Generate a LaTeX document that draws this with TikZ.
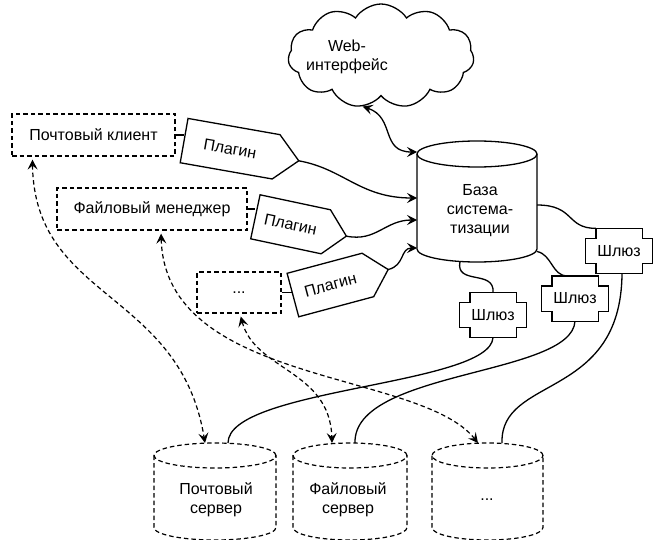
\documentclass[tikz,border=0pt]{standalone}
\usepackage{fontspec}
\setmainfont{Liberation Sans}
\usetikzlibrary{arrows.meta,shapes.symbols,calc}
\newcommand\gwdraw[1]{%
  \draw[solidline] ([xshift=10.5pt]#1.north west) -- ([xshift=-10.5pt]#1.north east)
    -- ([xshift=-10.5pt,yshift=-10pt]#1.north east) -- ([yshift=-10pt]#1.north east)
    -- ([yshift=10pt]#1.south east) -- ([xshift=-10.5pt,yshift=10pt]#1.south east)
    -- ([xshift=-10.5pt]#1.south east) -- ([xshift=10.5pt]#1.south west)
    -- ([xshift=10.5pt,yshift=10pt]#1.south west) -- ([yshift=10pt]#1.south west)
    -- ([yshift=-10pt]#1.north west) -- ([xshift=10.5pt,yshift=-10pt]#1.north west) -- cycle;}
% name, x, y, angle, half body width, tip length
\newcommand\plugdraw[6]{%
  \node[txt, rotate=#4] (#1) at (#2,#3) {Плагин};
  \begin{scope}[shift={(#1.center)}, rotate=#4]
    \draw[solidline] (-#5,-22.5) -- (#5,-22.5) -- ({#5+#6},0) coordinate (#1tip)
      -- (#5,22.5) -- (-#5,22.5) -- cycle;
    \coordinate (#1in) at (-#5,0);
  \end{scope}}
% cylinder outline: name, rx, ry, style
\newcommand\cyldraw[4]{%
  \draw[#4] ([yshift=-#3pt]#1.north west) -- ([yshift=#3pt]#1.south west)
    arc[start angle=180, end angle=360, x radius=#2pt, y radius=#3pt]
    -- ([yshift=-#3pt]#1.north east);
  \draw[#4] ([yshift=-#3pt]#1.north) ellipse[x radius=#2pt, y radius=#3pt];}
\begin{document}
\begin{tikzpicture}[x=1pt, y=-1pt, line width=1.3pt,
  >={Stealth[length=10pt,width=10pt,inset=4pt]},
  txt/.style={font=\fontsize{16}{19}\selectfont, align=center, inner sep=0pt},
  solidline/.style={line width=1.3pt},
  dashline/.style={line width=1.2pt, dash pattern=on 4.5pt off 3pt},
  dbox/.style={txt, draw, dashline},
  shapebox/.style={inner sep=0pt, outer sep=0pt},
  gw/.style={txt, minimum width=66pt, minimum height=44pt},
  conn/.style={solidline},
  dconn/.style={dashline, <->, shorten <=3pt}]
\useasboundingbox (0,0) rectangle (655,540);
\clip (0,0) rectangle (655,540);

% cloud
\node[cloud, draw, solidline, cloud puffs=11, cloud puff arc=115, aspect=1.9, minimum width=186pt, minimum height=104pt, inner sep=0pt] (web) at (381,56) {};
\node[txt] (webt) at (347,57) {Web-\\интерфейс};

% database
\node[shapebox, minimum width=120pt, minimum height=121pt] (db) at (477,201.5) {};
\cyldraw{db}{60}{13}{solidline}
\node[txt] (dbt) at (480,211) {База\\система-\\тизации};

% client boxes
\node[dbox, minimum width=163pt, minimum height=42pt] (mc) at (93.5,135) {Почтовый клиент};
\node[dbox, minimum width=190pt, minimum height=42pt] (fm) at (152,209) {Файловый менеджер};
\node[dbox, minimum width=84pt, minimum height=41pt] (ot) at (239,292.5) {...};

% plugins
\plugdraw{pa}{230.1}{148.7}{-10}{46.7}{23}
\plugdraw{pb}{290.6}{224.3}{-12}{36}{21}
\plugdraw{pc}{330.4}{285}{15}{38.8}{21}

\draw[conn] (mc.east) -- (mc.east -| pain);
\draw[conn] (fm.east) -- (fm.east -| pbin);
\draw[conn] (ot.east) -- (ot.east -| pcin);

% gateways
\node[gw] (ga) at (619,251) {Шлюз};
\node[gw] (gb) at (575,298.5) {Шлюз};
\node[gw] (gc) at (493,315) {Шлюз};
\gwdraw{ga}
\gwdraw{gb}
\gwdraw{gc}

% servers
\node[shapebox, minimum width=122pt, minimum height=97pt] (ca) at (215,491.5) {};
\node[shapebox, minimum width=114pt, minimum height=97pt] (cb) at (350,491.5) {};
\node[shapebox, minimum width=111pt, minimum height=97pt] (cc) at (487.5,491.5) {};
\cyldraw{ca}{61}{12.5}{dashline}
\cyldraw{cb}{57}{12.5}{dashline}
\cyldraw{cc}{55.5}{12.5}{dashline}
\node[txt] (cat) at (216,500) {Почтовый\\сервер};
\node[txt] (cbt) at (348,500) {Файловый\\сервер};
\node[txt] (cct) at (487,500) {...};

% arrows into the database
\draw[conn, <->] (web.250) .. controls +(33,11) and +(-37,0) .. ([yshift=49.5pt]db.west);
\draw[conn, ->] (patip) .. controls +(45,8) and +(-57,0) .. ([yshift=3.5pt]db.west);
\draw[conn, ->] (pbtip) .. controls +(30,6) and +(-32,0) .. ([yshift=-18.5pt]db.west);
\draw[conn, ->] (pctip) .. controls +(17,-4) and +(-17,0) .. ([yshift=-46.5pt]db.west);

% database to gateways
\draw[conn] ([yshift=-3.5pt]db.east) .. controls +(38,0) and +(-30,0) .. ([xshift=10.5pt]ga.north west);
\draw[conn] ([yshift=-50pt]db.east) .. controls +(15,3) and +(-15,0) .. ([xshift=-8pt]gb.north);
\draw[conn] ([xshift=-17pt,yshift=0.5pt]db.south) .. controls +(-5,24) and +(2,-23) .. (gc.north);

% gateways to servers
\draw[conn] (gc.south) .. controls +(-3,48) and +(0,-55) .. ([xshift=13pt]ca.north);
\draw[conn] (gb.south) .. controls +(-3,55) and +(-2,-73) .. ([xshift=5pt]cb.north);
\draw[conn] ([xshift=3pt]ga.south) .. controls +(-1,127) and +(-2,-68) .. ([xshift=14.5pt]cc.north);

% dashed links clients <-> servers
\draw[dconn] ([xshift=21pt]mc.south west) .. controls +(2,144) and +(-25,-153) .. ([xshift=-10pt]ca.north);
\draw[dconn] ([xshift=9pt]fm.south) .. controls +(4,155) and +(-58,-73) .. ([xshift=-9.5pt]cc.north);
\draw[dconn] ([xshift=1pt]ot.south) .. controls +(15,57) and +(-2,-73) .. ([xshift=-18pt]cb.north);
\end{tikzpicture}
\end{document}
